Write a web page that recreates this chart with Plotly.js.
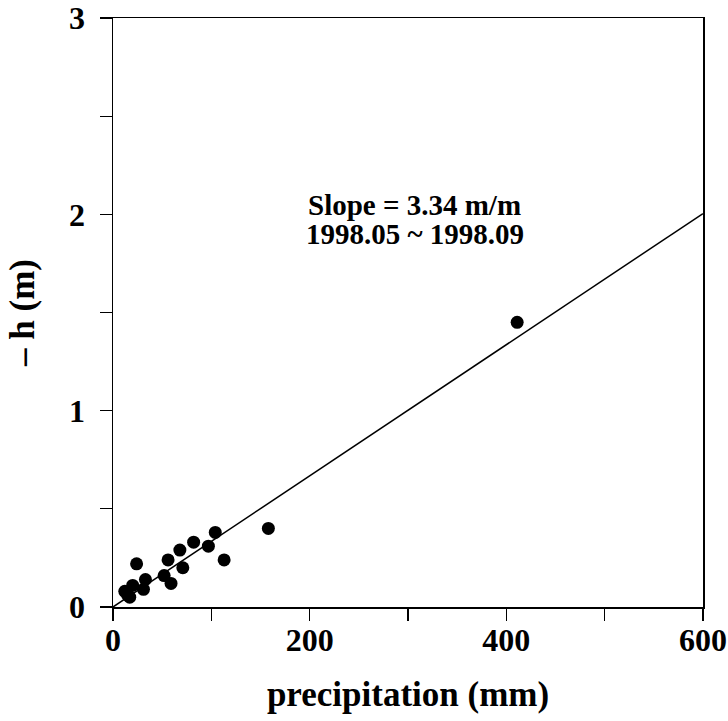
<!DOCTYPE html>
<html>
<head>
<meta charset="utf-8">
<script src="https://cdn.plot.ly/plotly-3.0.1.min.js"></script>
<style>html,body{margin:0;padding:0;background:#fff;}#chart{width:728px;height:721px;}</style>
</head>
<body>
<div id="chart"></div>
<script>
// Observed points: precipitation (mm) vs -h (m)
const precipitation = [12, 15, 17, 20, 24, 31, 33, 52, 56, 59, 68, 71, 82, 97, 104, 113, 158, 411];
const negH          = [0.08, 0.06, 0.05, 0.11, 0.22, 0.09, 0.14, 0.16, 0.24, 0.12, 0.29, 0.20, 0.33, 0.31, 0.38, 0.24, 0.40, 1.45];
// Fitted line (slope 3.34 m/m = 0.00334 m/mm)
const slopeMPerMm = 0.00334;
const fitX = [0, 600];
const fitY = fitX.map(v => v * slopeMPerMm);
const xTickVals = [0, 200, 400, 600];
const xTickText = ['0', '200', '400', '600'];
const yTickVals = [0, 1, 2, 3];
const yTickText = ['0', '1', '2', '3'];
const noteLines = ['Slope = 3.34 m/m', '1998.05 ~ 1998.09'];

const serif = 'Liberation Serif, Times New Roman, serif';
const font = {family: serif, color: '#000', size: 32, weight: 'bold'};
const noteFont = {family: serif, size: 29, weight: 'bold', color: '#000'};

const traces = [
  {x: fitX, y: fitY, mode: 'lines', line: {color: '#000', width: 1.5}, hoverinfo: 'skip'},
  {x: precipitation, y: negH, mode: 'markers', marker: {color: '#000', size: 13}}
];

const layout = {
  width: 728, height: 721,
  margin: {l: 113, r: 25, t: 18, b: 114},
  paper_bgcolor: '#fff', plot_bgcolor: '#fff',
  showlegend: false,
  font: font,
  xaxis: {
    range: [0, 600], tickvals: xTickVals, ticktext: xTickText,
    ticks: 'outside', ticklen: 12, tickwidth: 1.2, tickcolor: '#000',
    minor: {dtick: 100, tick0: 0, ticks: 'outside', ticklen: 12, tickwidth: 1.2, tickcolor: '#000'},
    showgrid: false, zeroline: false, showline: true, linecolor: '#000', linewidth: 1.5, mirror: true,
    tickfont: font, ticklabelstandoff: -8,
    title: {text: 'precipitation (mm)', font: {family: serif, size: 35, weight: 'bold', color: '#000'}, standoff: 24}
  },
  yaxis: {
    range: [0, 3], tickvals: yTickVals, ticktext: yTickText,
    ticks: 'outside', ticklen: 12, tickwidth: 1.2, tickcolor: '#000',
    minor: {dtick: 0.5, tick0: 0, ticks: 'outside', ticklen: 12, tickwidth: 1.2, tickcolor: '#000'},
    showgrid: false, zeroline: false, showline: true, linecolor: '#000', linewidth: 1.5, mirror: true,
    tickfont: font, ticklabelstandoff: 8,
    title: {text: '– h (m)', font: {family: serif, size: 35, weight: 'bold', color: '#000'}, standoff: 24}
  },
  annotations: [
    {xref: 'x', yref: 'y', x: 307, y: 2.05, showarrow: false, text: noteLines[0], font: noteFont},
    {xref: 'x', yref: 'y', x: 307, y: 1.90, showarrow: false, text: noteLines[1], font: noteFont}
  ]
};

Plotly.newPlot('chart', traces, layout, {staticPlot: true});
</script>
</body>
</html>
